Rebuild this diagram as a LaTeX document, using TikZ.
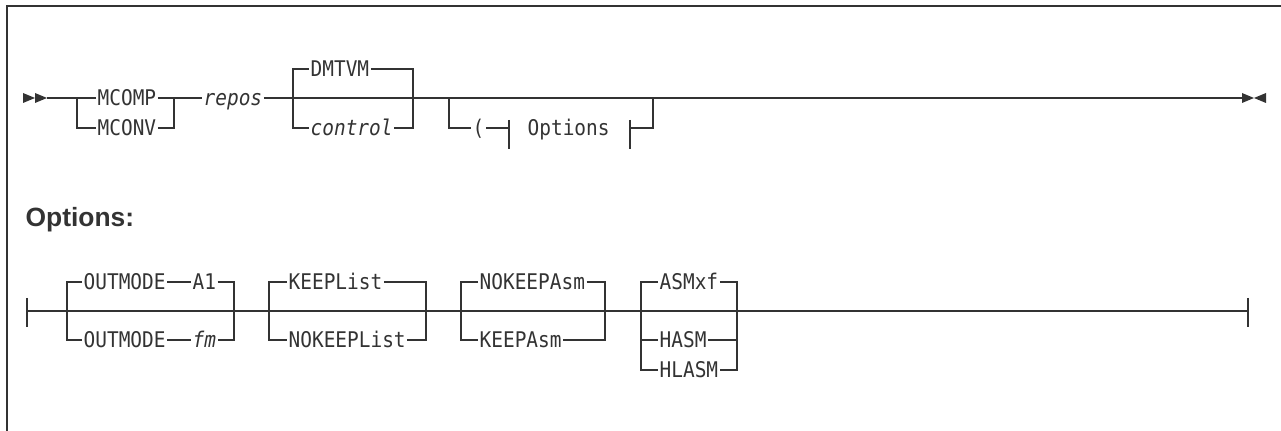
\documentclass[tikz,border=0pt]{standalone}
\usepackage{fontspec}
\newfontfamily\synfont[FakeStretch=0.9]{DejaVu Sans Mono}
\newfontfamily\headfont{Liberation Sans}
\tikzset{
  kw/.style={font=\synfont\fontsize{10.8pt}{13pt}\selectfont, anchor=west,
    inner xsep=0.5pt, inner ysep=0pt, text height=7.9pt, text depth=0pt},
  var/.style={kw, font=\synfont\itshape\fontsize{10.8pt}{13pt}\selectfont},
  tip/.style={fill, draw=none},
  blob/.style={line width=1.3pt},
}
\begin{document}
\begin{tikzpicture}[x=0.5pt,y=-0.5pt,line width=0.65pt,color=black!80]
\useasboundingbox (0,0) rectangle (1281,431);

% frame
\draw[line width=0.85pt] (7,431) -- (7,6) -- (1281,6);

% main statement
\coordinate (in) at (47,98);
\coordinate (out) at (1242,98);
\fill[tip] (23,93) -- (35,98) -- (23,103) -- cycle;
\fill[tip] (35,93) -- (47,98) -- (35,103) -- cycle;
\fill[tip] (1242,93) -- (1254,98) -- (1242,103) -- cycle;
\fill[tip] (1266,93) -- (1254,98) -- (1266,103) -- cycle;

\node[kw] (mcomp) at (96,98) {MCOMP};
\node[kw] (mconv) at (96,128) {MCONV};
\node[var] (repos) at (202,98) {repos};
\node[kw] (dmtvm) at (309,69) {DMTVM};
\node[var] (control) at (309,128) {control};
\node[kw] (paren) at (471,128) {(};
\node[kw] (optref) at (526,128) {Options};

\draw (in) -- (mcomp.west);
\draw (mcomp.east) -- (repos.west);
\draw (repos.east) -- (out);
\draw (mcomp.west) -| (77,128) -- (mconv.west);
\draw (mconv.east) -| (174,98);
\draw (293,98) |- (dmtvm.west);
\draw (dmtvm.east) -| (413,128) -- (control.east);
\draw (control.west) -| (293,98);
\draw (449,98) |- (paren.west);
\draw (paren.east) -- (509,128);
\draw (509,120) -- (509,149);
\draw (630,120) -- (630,149);
\draw (630,128) -| (653,98);
\draw[blob] (658,98) -- (682,98);

% options fragment
\node[font=\headfont\bfseries\fontsize{13.2pt}{15pt}\selectfont, anchor=base west, inner sep=0pt] (opthead) at (25,227) {Options:};

\coordinate (fin) at (27,311);
\coordinate (fout) at (1248,311);
\draw (27,298) -- (27,327);
\draw (1248,298) -- (1248,327);
\draw (fin) -- (fout);
\draw[blob] (37,311) -- (42,311);
\draw[blob] (743,311) -- (766,311);

\node[kw] (om1) at (82,282) {OUTMODE};
\node[kw] (a1) at (191,282) {A1};
\node[kw] (om2) at (82,340) {OUTMODE};
\node[var] (fm) at (191,340) {fm};
\draw (om1.east) -- (a1.west);
\draw (om2.east) -- (fm.west);
\draw (om1.west) -| (67,340) -- (om2.west);
\draw (a1.east) -| (234,340) -- (fm.east);

\node[kw] (keepl) at (287,282) {KEEPList};
\node[kw] (nokeepl) at (287,340) {NOKEEPList};
\draw (keepl.west) -| (269,340) -- (nokeepl.west);
\draw (keepl.east) -| (426,340) -- (nokeepl.east);

\node[kw] (nokeepa) at (478,282) {NOKEEPAsm};
\node[kw] (keepa) at (478,340) {KEEPAsm};
\draw (nokeepa.west) -| (461,340) -- (keepa.west);
\draw (nokeepa.east) -| (605,340) -- (keepa.east);

\node[kw] (asmxf) at (658,282) {ASMxf};
\node[kw] (hasm) at (658,340) {HASM};
\node[kw] (hlasm) at (658,370) {HLASM};
\draw (asmxf.west) -| (641,370) -- (hlasm.west);
\draw (641,340) -- (hasm.west);
\draw (asmxf.east) -| (737,370) -- (hlasm.east);
\draw (hasm.east) -- (737,340);
\end{tikzpicture}
\end{document}
